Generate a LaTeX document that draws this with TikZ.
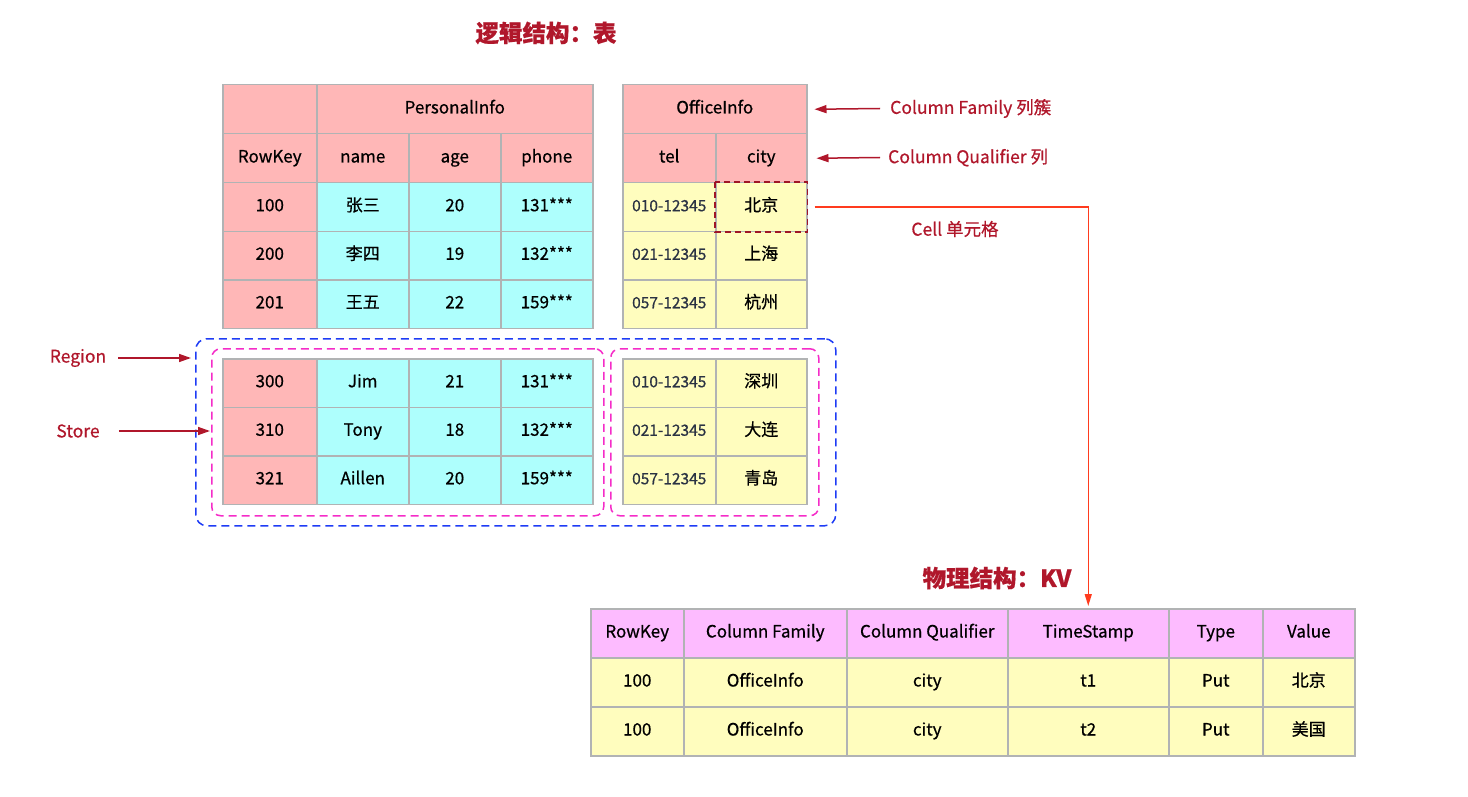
\documentclass[tikz,border=0pt]{standalone}
\usepackage{fontspec}
\setmainfont{Noto Sans CJK SC}[FakeBold=0.6]
\usetikzlibrary{arrows.meta}

\definecolor{cellgray}{HTML}{B1B3B4}
\definecolor{hdrpink}{HTML}{FFB7B7}
\definecolor{valcyan}{HTML}{AEFFFD}
\definecolor{offyellow}{HTML}{FFFDBE}
\definecolor{kvpink}{HTML}{FDBBFF}
\definecolor{lblred}{HTML}{B0172B}
\definecolor{cellred}{HTML}{FF3B1E}
\definecolor{telnavy}{HTML}{2A3243}
\definecolor{regblue}{HTML}{1E3CF5}
\definecolor{storemag}{HTML}{F52CC8}

\begin{document}
\begin{tikzpicture}[x=1pt,y=-1pt,
    cell/.style={draw=cellgray,line width=1.5pt,anchor=north west,inner sep=0pt,
      minimum height=49pt,text height=12pt,text depth=3.5pt,font=\fontsize{17}{20}\selectfont},
    hdr cell/.style={cell,fill=hdrpink},
    key cell/.style={cell,fill=hdrpink},
    val cell/.style={cell,fill=valcyan},
    off cell/.style={cell,fill=offyellow},
    tel cell/.style={off cell,text=telnavy,font=\fontsize{15.5}{18}\selectfont},
    kv head/.style={cell,fill=kvpink},
    kv cell/.style={cell,fill=offyellow},
    label/.style={text=lblred,font=\fontsize{17.5}{20}\selectfont,inner sep=0pt},
    title/.style={text=lblred,font=\fontsize{23.5}{28}\selectfont\bfseries},
    lbl arrow/.style={draw=lblred,line width=1.5pt,-{Triangle[length=12pt,width=8pt]}},
    cell arrow/.style={draw=cellred,line width=1.5pt,-{Triangle[length=12pt,width=7pt]}},
    dashed cell/.style={draw=lblred!90!black,line width=1.5pt,dash pattern=on 6pt off 4pt},
    store box/.style={draw=storemag,line width=1.5pt,dash pattern=on 8pt off 5pt,
      rounded corners=9pt,anchor=north west,inner sep=0pt},
    region box/.style={draw=regblue,line width=1.5pt,dash pattern=on 8pt off 5pt,
      rounded corners=11pt,anchor=north west,inner sep=0pt}]

    \useasboundingbox (0,0) rectangle (1468,797);

    % Titles
    \node[title] (logic) at (546,33) {逻辑结构：表};
    \node[title] (phys) at (997,578) {物理结构：KV};

    % Logical table: header rows
    \node[hdr cell,minimum width=94pt] (pi-corner) at (222,84) {};
    \node[hdr cell,minimum width=276pt] (pi-fam) at (316,84) {PersonalInfo};
    \node[hdr cell,minimum width=94pt] (pi-rk) at (222,133) {RowKey};
    \node[hdr cell,minimum width=92pt] (pi-name) at (316,133) {name};
    \node[hdr cell,minimum width=92pt] (pi-age) at (408,133) {age};
    \node[hdr cell,minimum width=92pt] (pi-phone) at (500,133) {phone};
    \node[hdr cell,minimum width=184pt] (oi-fam) at (622,84) {OfficeInfo};
    \node[hdr cell,minimum width=93pt] (oi-tel) at (622,133) {tel};
    \node[hdr cell,minimum width=91pt] (oi-city) at (715,133) {city};

    % Logical table: data rows
    \foreach \k/\n/\a/\p/\t/\c [count=\i] in {
        100/张三/20/131***/010-12345/北京,
        200/李四/19/132***/021-12345/上海,
        201/王五/22/159***/057-12345/杭州,
        300/Jim/21/131***/010-12345/深圳,
        310/Tony/18/132***/021-12345/大连,
        321/Aillen/20/159***/057-12345/青岛} {
      \pgfmathsetmacro\y{\i<4 ? 182+48.5*(\i-1) : 358+48.5*(\i-4)}
      \node[key cell,minimum width=94pt,minimum height=48.5pt] (r\i-key) at (222,\y) {\k};
      \node[val cell,minimum width=92pt,minimum height=48.5pt] (r\i-name) at (316,\y) {\n};
      \node[val cell,minimum width=92pt,minimum height=48.5pt] (r\i-age) at (408,\y) {\a};
      \node[val cell,minimum width=92pt,minimum height=48.5pt] (r\i-phone) at (500,\y) {\p};
      \node[tel cell,minimum width=93pt,minimum height=48.5pt] (r\i-tel) at (622,\y) {\t};
      \node[off cell,minimum width=91pt,minimum height=48.5pt] (r\i-city) at (715,\y) {\c};
    }
    \draw[dashed cell] (r1-city.north west) rectangle (r1-city.south east);

    % Region and stores
    \node[store box,minimum width=392pt,minimum height=167pt] (store-pi) at (211,348) {};
    \node[store box,minimum width=208pt,minimum height=167pt] (store-oi) at (610,348) {};
    \node[region box,minimum width=640pt,minimum height=187pt] (region) at (195,338) {};

    % Labels
    \node[label,anchor=west] (cf-lbl) at (890,108.5) {Column Family 列簇};
    \node[label,anchor=west] (cq-lbl) at (888,157.5) {Column Qualifier 列};
    \node[label] (cell-lbl) at (955,229) {Cell 单元格};
    \node[label] (reg-lbl) at (78,358) {Region};
    \node[label] (store-lbl) at (78,431) {Store};

    % Physical table
    \foreach \x/\w/\h/\n in {590/93/RowKey/rk, 683/163/Column Family/cf,
        846/161/Column Qualifier/cq, 1007/161/TimeStamp/ts, 1168/94/Type/type, 1262/92/Value/val}
      \node[kv head,minimum width=\w pt] (kv-\n) at (\x,608) {\h};
    \foreach \t/\v [count=\i] in {t1/北京, t2/美国} {
      \pgfmathsetmacro\y{608+49*\i}
      \node[kv cell,minimum width=93pt] (kv\i-rk) at (590,\y) {100};
      \node[kv cell,minimum width=163pt] (kv\i-cf) at (683,\y) {OfficeInfo};
      \node[kv cell,minimum width=161pt] (kv\i-cq) at (846,\y) {city};
      \node[kv cell,minimum width=161pt] (kv\i-ts) at (1007,\y) {\t};
      \node[kv cell,minimum width=94pt] (kv\i-type) at (1168,\y) {Put};
      \node[kv cell,minimum width=92pt] (kv\i-val) at (1262,\y) {\v};
    }

    % Arrows
    \draw[lbl arrow] ([xshift=-10pt]cf-lbl.west) -- ([xshift=7pt]oi-fam.east);
    \draw[lbl arrow] ([xshift=-8pt]cq-lbl.west) -- ([xshift=9pt]oi-city.east);
    \draw[lbl arrow,shorten >=4pt] ([xshift=12pt]reg-lbl.east) -- (reg-lbl -| region.west);
    \draw[lbl arrow,shorten >=1pt] ([xshift=19pt]store-lbl.east) -- (store-lbl -| store-pi.west);
    \draw[cell arrow,shorten >=2pt] ([xshift=7pt]r1-city.east) -| (kv-ts.north);

\end{tikzpicture}
\end{document}
